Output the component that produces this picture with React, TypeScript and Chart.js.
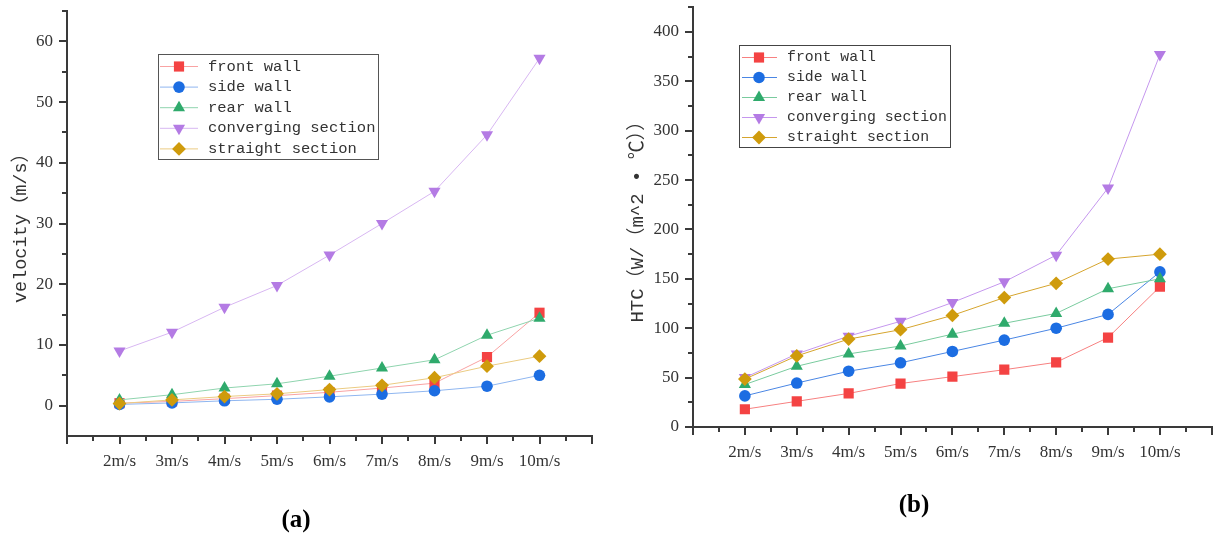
import React, { useEffect, useRef } from 'react';
import { Chart, registerables } from 'chart.js';
import { drawPoint } from 'chart.js/helpers';

Chart.register(...registerables);

// ---------- data ----------
const categories = ['2m/s', '3m/s', '4m/s', '5m/s', '6m/s', '7m/s', '8m/s', '9m/s', '10m/s'];
const seriesNames = ['front wall', 'side wall', 'rear wall', 'converging section', 'straight section'];

const velocityFront = [0.4, 0.7, 1.15, 1.65, 2.2, 2.9, 3.7, 8.0, 15.3];
const velocitySide = [0.2, 0.45, 0.8, 1.05, 1.45, 1.9, 2.45, 3.2, 5.0];
const velocityRear = [0.95, 1.8, 2.9, 3.6, 4.85, 6.2, 7.55, 11.6, 14.4];
const velocityConverging = [9.0, 12.1, 16.2, 19.8, 24.8, 30.0, 35.3, 44.6, 57.2];
const velocityStraight = [0.35, 0.95, 1.5, 1.95, 2.65, 3.35, 4.6, 6.5, 8.15];

const htcFront = [18, 26, 34, 44, 51, 58, 65.5, 90.5, 142];
const htcSide = [31.5, 44.5, 56.5, 65, 76.5, 88, 100, 114, 157];
const htcRear = [43, 61.5, 74, 82, 94, 105, 115, 140, 150];
const htcConverging = [50, 74, 92, 107, 126, 147, 174, 242, 377];
const htcStraight = [48.5, 72, 89, 98.5, 113, 131, 145.5, 170, 175];

const velocityTicks = [0, 10, 20, 30, 40, 50, 60];
const htcTicks = [0, 50, 100, 150, 200, 250, 300, 350, 400];
const xTickPositions = [-1, ...categories.map((_, i) => i), categories.length];

// ---------- styles ----------
const markerColors = ['#F44343', '#1C6DE2', '#2FAA6C', '#B47BE4', '#CF9B0C'];
const lineColorsA = ['#F9A3A3', '#8FB6F0', '#8FD4AE', '#D8B7F2', '#EBCB82'];
const lineColorsB = ['#F78080', '#4A86E4', '#79CB9E', '#C597EE', '#D6A52E'];
const pointStyles = ['rect', 'circle', 'triangle', 'triangle', 'rectRot'];
const pointRotations = [0, 0, 0, 180, 0];
const pointRadii = [7.2, 5.8, 7.0, 7.0, 6.9];

const AXIS_COLOR = '#3a3a3a';
const TICK_FONT = "'Liberation Serif', 'Times New Roman', serif";
const MONO_FONT = "'Liberation Mono', 'Noto Sans CJK SC', monospace";

const minorTicks = {
  id: 'minorTicks',
  afterDraw(chart: any, _a: any, o: any) {
    const ctx = chart.ctx;
    const xs = chart.scales.x;
    const ys = chart.scales.y;
    ctx.save();
    ctx.strokeStyle = o.color;
    ctx.lineWidth = o.width;
    const xv = xs.ticks.map((t: any) => t.value);
    for (let i = 0; i < xv.length - 1; i++) {
      const px = Math.round(xs.getPixelForValue((xv[i] + xv[i + 1]) / 2));
      ctx.beginPath();
      ctx.moveTo(px, xs.top);
      ctx.lineTo(px, xs.top + o.length);
      ctx.stroke();
    }
    const yv = ys.ticks.map((t: any) => t.value);
    const step = yv[1] - yv[0];
    const mids: number[] = [];
    for (let i = 0; i < yv.length - 1; i++) mids.push((yv[i] + yv[i + 1]) / 2);
    if (yv[yv.length - 1] + step / 2 <= ys.max) mids.push(yv[yv.length - 1] + step / 2);
    if (yv[0] - step / 2 > ys.min) mids.push(yv[0] - step / 2);
    mids.forEach((v) => {
      const py = Math.round(ys.getPixelForValue(v));
      ctx.beginPath();
      ctx.moveTo(ys.right, py);
      ctx.lineTo(ys.right - o.length, py);
      ctx.stroke();
    });
    ctx.restore();
  },
};

const boxLegend = {
  id: 'boxLegend',
  afterDraw(chart: any, _a: any, o: any) {
    const ctx = chart.ctx;
    ctx.save();
    ctx.fillStyle = '#ffffff';
    ctx.fillRect(o.left, o.top, o.width, o.height);
    ctx.strokeStyle = o.borderColor;
    ctx.lineWidth = 1;
    ctx.strokeRect(o.left + 0.5, o.top + 0.5, o.width, o.height);
    chart.data.datasets.forEach((ds: any, i: number) => {
      const y = o.firstRow + i * o.rowGap;
      ctx.strokeStyle = ds.borderColor;
      ctx.lineWidth = 1;
      ctx.beginPath();
      ctx.moveTo(o.lineStart, y);
      ctx.lineTo(o.lineEnd, y);
      ctx.stroke();
      ctx.fillStyle = ds.pointBackgroundColor;
      ctx.strokeStyle = ds.pointBorderColor;
      drawPoint(ctx, { pointStyle: ds.pointStyle, rotation: ds.pointRotation, radius: ds.pointRadius, borderWidth: 0 }, o.markerX, y);
      ctx.fillStyle = o.textColor;
      ctx.font = o.font;
      ctx.textBaseline = 'middle';
      ctx.textAlign = 'left';
      ctx.fillText(ds.label, o.textX, y);
    });
    ctx.restore();
  },
};

function makeConfig(p: any) {
  const datasets = p.series.map((vals: number[], i: number) => ({
    label: seriesNames[i],
    data: vals.map((v, k) => ({ x: k, y: v })),
    borderColor: p.lineColors[i],
    backgroundColor: markerColors[i],
    borderWidth: 1,
    pointStyle: pointStyles[i],
    pointRotation: pointRotations[i],
    pointRadius: pointRadii[i],
    pointBackgroundColor: markerColors[i],
    pointBorderColor: markerColors[i],
    pointBorderWidth: 0,
    tension: 0,
    order: p.series.length - 1 - i,
  }));
  return {
    type: 'line',
    data: { datasets },
    options: {
      responsive: false,
      animation: false,
      events: [],
      layout: { padding: { left: 0, top: p.padTop, right: p.padRight, bottom: 0 } },
      plugins: {
        legend: { display: false },
        tooltip: { enabled: false },
        minorTicks: { color: AXIS_COLOR, width: 2, length: 5 },
        boxLegend: p.legend,
      },
      scales: {
        x: {
          type: 'linear',
          min: -1,
          max: categories.length,
          afterBuildTicks: (s: any) => {
            s.ticks = xTickPositions.map((v) => ({ value: v }));
          },
          afterFit: (s: any) => {
            s.height = p.xHeight;
            s.paddingLeft = 0;
            s.paddingRight = 0;
          },
          ticks: {
            autoSkip: false,
            maxRotation: 0,
            minRotation: 0,
            padding: 7,
            color: '#333',
            font: { family: TICK_FONT, size: 17 },
            callback: (v: number) => categories[v] ?? '',
          },
          grid: { drawOnChartArea: false, drawTicks: true, tickLength: 8, color: AXIS_COLOR, lineWidth: 2 },
          border: { display: true, color: AXIS_COLOR, width: 2 },
        },
        y: {
          type: 'linear',
          min: p.yMin,
          max: p.yMax,
          afterBuildTicks: (s: any) => {
            s.ticks = p.yTicks.map((v: number) => ({ value: v }));
          },
          afterFit: (s: any) => {
            s.width = p.yWidth;
            s.paddingTop = 0;
            s.paddingBottom = 0;
          },
          ticks: {
            padding: 6,
            color: '#333',
            font: { family: TICK_FONT, size: 17 },
          },
          grid: { drawOnChartArea: false, drawTicks: true, tickLength: 8, color: AXIS_COLOR, lineWidth: 2 },
          border: { display: true, color: AXIS_COLOR, width: 2 },
          title: {
            display: true,
            text: p.yTitle,
            color: '#333',
            font: { family: MONO_FONT, size: p.titleSize },
            padding: { top: p.titlePad, bottom: 0 },
          },
        },
      },
    },
    plugins: [minorTicks, boxLegend],
  };
}

function ChartCanvas({ params, left, width, height }: any) {
  const ref = useRef<HTMLCanvasElement | null>(null);
  useEffect(() => {
    const chart = new Chart(ref.current as HTMLCanvasElement, makeConfig(params) as any);
    return () => chart.destroy();
  }, []);
  return (
    <canvas
      ref={ref}
      width={width}
      height={height}
      style={{ position: 'absolute', left, top: 0, width, height }}
    />
  );
}

const paramsA = {
  series: [velocityFront, velocitySide, velocityRear, velocityConverging, velocityStraight],
  lineColors: lineColorsA,
  yMin: -5,
  yMax: 65,
  yTicks: velocityTicks,
  yTitle: 'velocity（m/s）',
  titleSize: 18.5,
  yWidth: 67,
  xHeight: 98,
  padTop: 11,
  padRight: 8,
  titlePad: 10,
  legend: {
    left: 158, top: 54, width: 220, height: 105,
    firstRow: 66.5, rowGap: 20.6,
    lineStart: 160, lineEnd: 198, markerX: 179, textX: 208,
    font: `15.5px ${MONO_FONT}`, textColor: '#333', borderColor: '#555',
  },
};

const paramsB = {
  series: [htcFront, htcSide, htcRear, htcConverging, htcStraight],
  lineColors: lineColorsB,
  yMin: 0,
  yMax: 425,
  yTicks: htcTicks,
  yTitle: 'HTC（W/（m^2 • ℃））',
  titleSize: 19,
  yWidth: 93,
  xHeight: 107,
  padTop: 6,
  padRight: 6,
  titlePad: 27,
  legend: {
    left: 139, top: 45, width: 211, height: 102,
    firstRow: 57.5, rowGap: 20,
    lineStart: 142, lineEnd: 177, markerX: 159, textX: 187,
    font: `14.8px ${MONO_FONT}`, textColor: '#333', borderColor: '#444',
  },
};

const captionStyle: any = {
  position: 'absolute',
  transform: 'translate(-50%, -50%)',
  fontFamily: "'Liberation Serif', 'Times New Roman', serif",
  fontWeight: 'bold',
  fontSize: 25,
  color: '#000',
  whiteSpace: 'nowrap',
};

export default function App() {
  return (
    <div style={{ position: 'absolute', left: 0, top: 0, width: 1219, height: 534, background: '#fff', overflow: 'hidden' }}>
      <ChartCanvas params={paramsA} left={0} width={600} height={534} />
      <ChartCanvas params={paramsB} left={600} width={619} height={534} />
      <div style={{ ...captionStyle, left: 296, top: 519 }}>(a)</div>
      <div style={{ ...captionStyle, left: 914, top: 504 }}>(b)</div>
    </div>
  );
}
